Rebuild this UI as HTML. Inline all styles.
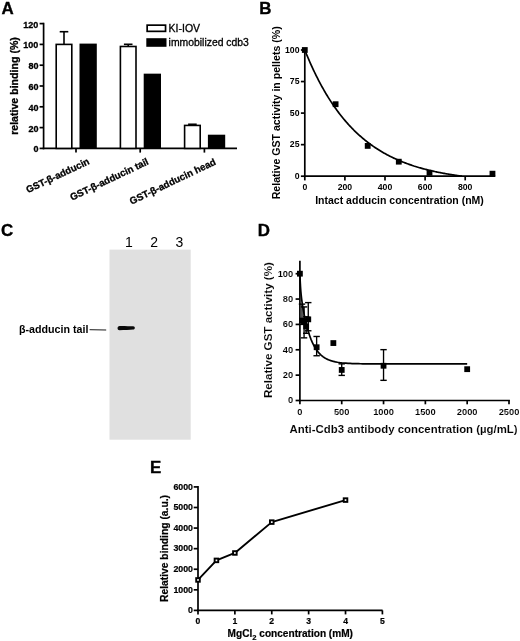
<!DOCTYPE html>
<html><head><meta charset="utf-8"><title>Figure</title>
<style>
html,body{margin:0;padding:0;background:#fff;}
body{width:520px;height:641px;overflow:hidden;}
svg{display:block;}
text{font-family:'Liberation Sans', Arial, sans-serif;fill:#000;}
line{stroke:#000;}
.pA text{stroke:#000;stroke-width:0.3px;}
.pE text{stroke:#000;stroke-width:0.2px;}
.lt text{stroke:#000;stroke-width:0.35px;}
.pD text{stroke:#fff;stroke-width:0.1px;}
</style></head><body>
<svg width="520" height="641" viewBox="0 0 520 641">
<rect x="0" y="0" width="520" height="641" fill="#fff"/>
<g class="lt">
<text id="LA" x="1.40" y="13.70" font-size="16.9" font-weight="bold" text-anchor="start">A</text>
<text id="LB" x="259.30" y="13.60" font-size="16.9" font-weight="bold" text-anchor="start">B</text>
<text id="LC" x="1.10" y="236.20" font-size="16.9" font-weight="bold" text-anchor="start">C</text>
<text id="LD" x="257.70" y="236.30" font-size="16.9" font-weight="bold" text-anchor="start">D</text>
<text id="LE" x="150.10" y="472.50" font-size="16.9" font-weight="bold" text-anchor="start">E</text>
</g>
<g class="pA">
<line x1="43.60" y1="22.75" x2="43.60" y2="149.25" stroke-width="1.7"/>
<line x1="42.75" y1="148.40" x2="237.00" y2="148.40" stroke-width="1.7"/>
<line x1="39.60" y1="148.40" x2="43.60" y2="148.40" stroke-width="1.7"/>
<text id="tA0" x="38.40" y="152.30" font-size="9.0" font-weight="bold" text-anchor="end">0</text>
<line x1="39.60" y1="127.60" x2="43.60" y2="127.60" stroke-width="1.7"/>
<text id="tA20" x="38.40" y="131.50" font-size="9.0" font-weight="bold" text-anchor="end">20</text>
<line x1="39.60" y1="106.80" x2="43.60" y2="106.80" stroke-width="1.7"/>
<text id="tA40" x="38.40" y="110.70" font-size="9.0" font-weight="bold" text-anchor="end">40</text>
<line x1="39.60" y1="86.00" x2="43.60" y2="86.00" stroke-width="1.7"/>
<text id="tA60" x="38.40" y="89.90" font-size="9.0" font-weight="bold" text-anchor="end">60</text>
<line x1="39.60" y1="65.20" x2="43.60" y2="65.20" stroke-width="1.7"/>
<text id="tA80" x="38.40" y="69.10" font-size="9.0" font-weight="bold" text-anchor="end">80</text>
<line x1="39.60" y1="44.40" x2="43.60" y2="44.40" stroke-width="1.7"/>
<text id="tA100" x="38.40" y="48.30" font-size="9.0" font-weight="bold" text-anchor="end">100</text>
<line x1="39.60" y1="23.60" x2="43.60" y2="23.60" stroke-width="1.7"/>
<text id="tA120" x="38.40" y="27.50" font-size="9.0" font-weight="bold" text-anchor="end">120</text>
<text id="yA" x="17.60" y="86.00" font-size="10.6" font-weight="bold" text-anchor="middle" transform="rotate(-90 17.60 86.00)">relative binding (%)</text>
<line x1="76.00" y1="148.40" x2="76.00" y2="152.60" stroke-width="1.7"/>
<line x1="140.20" y1="148.40" x2="140.20" y2="152.60" stroke-width="1.7"/>
<line x1="204.40" y1="148.40" x2="204.40" y2="152.60" stroke-width="1.7"/>
<line x1="64.00" y1="44.40" x2="64.00" y2="31.71" stroke-width="1.6"/>
<line x1="59.70" y1="31.71" x2="68.30" y2="31.71" stroke-width="1.6"/>
<rect x="56.20" y="44.40" width="15.60" height="104.00" fill="#fff" stroke="#000" stroke-width="1.6"/>
<rect x="79.50" y="43.60" width="17.30" height="104.80" fill="#000"/>
<line x1="128.20" y1="46.48" x2="128.20" y2="44.30" stroke-width="1.6"/>
<line x1="123.90" y1="44.30" x2="132.50" y2="44.30" stroke-width="1.6"/>
<rect x="120.40" y="46.48" width="15.60" height="101.92" fill="#fff" stroke="#000" stroke-width="1.6"/>
<rect x="143.70" y="73.66" width="17.30" height="74.74" fill="#000"/>
<line x1="192.40" y1="125.42" x2="192.40" y2="124.27" stroke-width="1.6"/>
<line x1="188.10" y1="124.27" x2="196.70" y2="124.27" stroke-width="1.6"/>
<rect x="184.60" y="125.42" width="15.60" height="22.98" fill="#fff" stroke="#000" stroke-width="1.6"/>
<rect x="207.90" y="134.70" width="17.30" height="13.70" fill="#000"/>
<rect x="147.15" y="25.15" width="18.40" height="6.20" fill="#fff" stroke="#000" stroke-width="1.7"/>
<rect x="146.30" y="38.20" width="20.20" height="8.60" fill="#000"/>
<text id="lg1" x="168.60" y="31.70" font-size="10.5" font-weight="normal" text-anchor="start">KI-IOV</text>
<text id="lg2" x="168.60" y="46.20" font-size="10.4" font-weight="normal" text-anchor="start">immobilized cdb3</text>
<text id="xl0" x="90.20" y="163.60" font-size="9.7" font-weight="bold" text-anchor="end" transform="rotate(-25.5 90.20 163.60)">GST-β-adducin</text>
<text id="xl1" x="149.30" y="163.90" font-size="9.7" font-weight="bold" text-anchor="end" transform="rotate(-25.5 149.30 163.90)">GST-β-adducin tail</text>
<text id="xl2" x="216.60" y="164.10" font-size="9.7" font-weight="bold" text-anchor="end" transform="rotate(-25.5 216.60 164.10)">GST-β-adducin head</text>
</g>
<g class="pB">
<line x1="304.80" y1="49.15" x2="304.80" y2="177.05" stroke-width="1.7"/>
<line x1="303.95" y1="176.20" x2="495.20" y2="176.20" stroke-width="1.7"/>
<line x1="300.90" y1="176.20" x2="304.80" y2="176.20" stroke-width="1.7"/>
<text id="tB0" x="299.50" y="179.00" font-size="8.7" font-weight="bold" text-anchor="end">0</text>
<line x1="300.90" y1="144.65" x2="304.80" y2="144.65" stroke-width="1.7"/>
<text id="tB25" x="299.50" y="147.45" font-size="8.7" font-weight="bold" text-anchor="end">25</text>
<line x1="300.90" y1="113.10" x2="304.80" y2="113.10" stroke-width="1.7"/>
<text id="tB50" x="299.50" y="115.90" font-size="8.7" font-weight="bold" text-anchor="end">50</text>
<line x1="300.90" y1="81.55" x2="304.80" y2="81.55" stroke-width="1.7"/>
<text id="tB75" x="299.50" y="84.35" font-size="8.7" font-weight="bold" text-anchor="end">75</text>
<line x1="300.90" y1="50.00" x2="304.80" y2="50.00" stroke-width="1.7"/>
<text id="tB100" x="299.50" y="52.80" font-size="8.7" font-weight="bold" text-anchor="end">100</text>
<line x1="304.80" y1="176.20" x2="304.80" y2="180.40" stroke-width="1.7"/>
<text id="uB0" x="304.80" y="189.50" font-size="8.7" font-weight="bold" text-anchor="middle">0</text>
<line x1="344.90" y1="176.20" x2="344.90" y2="180.40" stroke-width="1.7"/>
<text id="uB200" x="344.90" y="189.50" font-size="8.7" font-weight="bold" text-anchor="middle">200</text>
<line x1="385.00" y1="176.20" x2="385.00" y2="180.40" stroke-width="1.7"/>
<text id="uB400" x="385.00" y="189.50" font-size="8.7" font-weight="bold" text-anchor="middle">400</text>
<line x1="425.10" y1="176.20" x2="425.10" y2="180.40" stroke-width="1.7"/>
<text id="uB600" x="425.10" y="189.50" font-size="8.7" font-weight="bold" text-anchor="middle">600</text>
<line x1="465.20" y1="176.20" x2="465.20" y2="180.40" stroke-width="1.7"/>
<text id="uB800" x="465.20" y="189.50" font-size="8.7" font-weight="bold" text-anchor="middle">800</text>
<text id="yB" x="279.60" y="112.80" font-size="10.6" font-weight="bold" text-anchor="middle" transform="rotate(-90 279.60 112.80)">Relative GST activity in pellets (%)</text>
<text id="xB" x="399.50" y="204.10" font-size="10.5" font-weight="bold" text-anchor="middle">Intact adducin concentration (nM)</text>
<polyline fill="none" stroke="#000" stroke-width="1.7" stroke-linejoin="round" points="304.80,50.00 305.60,51.99 306.40,53.95 307.21,55.88 308.01,57.78 308.81,59.65 309.61,61.49 310.41,63.31 311.22,65.10 312.02,66.86 312.82,68.60 313.62,70.31 314.42,72.00 315.23,73.66 316.03,75.29 316.83,76.90 317.63,78.49 318.43,80.05 319.24,81.59 320.04,83.11 320.84,84.60 321.64,86.08 322.44,87.53 323.25,88.95 324.05,90.36 324.85,91.75 325.65,93.11 326.45,94.46 327.26,95.78 328.06,97.09 328.86,98.37 329.66,99.64 330.46,100.89 331.27,102.11 332.07,103.33 332.87,104.52 333.67,105.69 334.47,106.85 335.28,107.99 336.08,109.11 336.88,110.22 337.68,111.31 338.48,112.38 339.29,113.44 340.09,114.48 340.89,115.50 341.69,116.51 342.49,117.51 343.30,118.49 344.10,119.46 344.90,120.41 345.70,121.35 346.50,122.27 347.31,123.18 348.11,124.07 348.91,124.96 349.71,125.83 350.51,126.68 351.32,127.53 352.12,128.36 352.92,129.18 353.72,129.98 354.52,130.78 355.33,131.56 356.13,132.33 356.93,133.09 357.73,133.84 358.53,134.57 359.34,135.30 360.14,136.01 360.94,136.72 361.74,137.41 362.54,138.09 363.35,138.77 364.15,139.43 364.95,140.08 365.75,140.73 366.55,141.36 367.36,141.99 368.16,142.60 368.96,143.21 369.76,143.80 370.56,144.39 371.37,144.97 372.17,145.54 372.97,146.10 373.77,146.66 374.57,147.20 375.38,147.74 376.18,148.27 376.98,148.79 377.78,149.30 378.58,149.81 379.39,150.31 380.19,150.80 380.99,151.28 381.79,151.76 382.59,152.23 383.40,152.69 384.20,153.14 385.00,153.59 385.80,154.03 386.60,154.47 387.41,154.90 388.21,155.32 389.01,155.74 389.81,156.15 390.61,156.55 391.42,156.95 392.22,157.34 393.02,157.73 393.82,158.11 394.62,158.48 395.43,158.85 396.23,159.21 397.03,159.57 397.83,159.92 398.63,160.27 399.44,160.61 400.24,160.95 401.04,161.28 401.84,161.61 402.64,161.93 403.45,162.25 404.25,162.56 405.05,162.87 405.85,163.17 406.65,163.47 407.46,163.76 408.26,164.05 409.06,164.34 409.86,164.62 410.66,164.90 411.47,165.17 412.27,165.44 413.07,165.70 413.87,165.97 414.67,166.22 415.48,166.48 416.28,166.72 417.08,166.97 417.88,167.21 418.68,167.45 419.49,167.69 420.29,167.92 421.09,168.14 421.89,168.37 422.69,168.59 423.50,168.81 424.30,169.02 425.10,169.23 425.90,169.44 426.70,169.65 427.51,169.85 428.31,170.05 429.11,170.24 429.91,170.44 430.71,170.63 431.52,170.82 432.32,171.00 433.12,171.18 433.92,171.36 434.72,171.54 435.53,171.71 436.33,171.88 437.13,172.05 437.93,172.22 438.73,172.38 439.54,172.54 440.34,172.70 441.14,172.86 441.94,173.01 442.74,173.16 443.55,173.31 444.35,173.46 445.15,173.61 445.95,173.75 446.75,173.89 447.56,174.03 448.36,174.16 449.16,174.30 449.96,174.43 450.76,174.56 451.57,174.69 452.37,174.82 453.17,174.94 453.97,175.07 454.77,175.19 455.58,175.31 456.38,175.42 457.18,175.54 457.98,175.65 458.78,175.77 459.59,175.88 460.39,175.99 461.19,176.09 461.99,176.20"/>
<rect x="301.90" y="47.10" width="5.80" height="5.80" fill="#000"/>
<rect x="332.70" y="101.30" width="5.80" height="5.80" fill="#000"/>
<rect x="364.80" y="143.01" width="5.80" height="5.80" fill="#000"/>
<rect x="395.89" y="158.79" width="5.80" height="5.80" fill="#000"/>
<rect x="426.61" y="169.89" width="5.80" height="5.80" fill="#000"/>
<rect x="489.57" y="170.78" width="5.80" height="5.80" fill="#000"/>
</g>
<g class="pC">
<rect id="gel" x="109.50" y="249.60" width="81.20" height="190.10" fill="#e0e0e0"/>
<path d="M119.6,326.0 C124,325.9 130,326.2 133.2,326.3 C135.4,326.4 135.4,329.5 133.2,329.6 C130,329.8 124,330.2 119.6,330.3 C116.9,330.3 116.9,326.0 119.6,326.0 Z" fill="#0a0a0a"/>
<text id="lane1" x="128.80" y="247.20" font-size="14" font-weight="normal" text-anchor="middle">1</text>
<text id="lane2" x="154.10" y="247.20" font-size="14" font-weight="normal" text-anchor="middle">2</text>
<text id="lane3" x="179.40" y="247.20" font-size="14" font-weight="normal" text-anchor="middle">3</text>
<text id="cl" x="19.00" y="333.30" font-size="10.7" font-weight="bold" text-anchor="start">β-adducin tail</text>
<line x1="89.60" y1="329.70" x2="106.20" y2="330.00" stroke-width="0.9"/>
</g>
<g class="pD">
<line x1="299.90" y1="260.80" x2="299.90" y2="401.35" stroke-width="1.7"/>
<line x1="299.05" y1="400.50" x2="509.90" y2="400.50" stroke-width="1.7"/>
<line x1="295.60" y1="400.50" x2="299.90" y2="400.50" stroke-width="1.7"/>
<text id="tD0" x="293.20" y="403.40" font-size="9.3" font-weight="bold" text-anchor="end">0</text>
<line x1="295.60" y1="375.14" x2="299.90" y2="375.14" stroke-width="1.7"/>
<text id="tD20" x="293.20" y="378.04" font-size="9.3" font-weight="bold" text-anchor="end">20</text>
<line x1="295.60" y1="349.78" x2="299.90" y2="349.78" stroke-width="1.7"/>
<text id="tD40" x="293.20" y="352.68" font-size="9.3" font-weight="bold" text-anchor="end">40</text>
<line x1="295.60" y1="324.42" x2="299.90" y2="324.42" stroke-width="1.7"/>
<text id="tD60" x="293.20" y="327.32" font-size="9.3" font-weight="bold" text-anchor="end">60</text>
<line x1="295.60" y1="299.06" x2="299.90" y2="299.06" stroke-width="1.7"/>
<text id="tD80" x="293.20" y="301.96" font-size="9.3" font-weight="bold" text-anchor="end">80</text>
<line x1="295.60" y1="273.70" x2="299.90" y2="273.70" stroke-width="1.7"/>
<text id="tD100" x="293.20" y="276.60" font-size="9.3" font-weight="bold" text-anchor="end">100</text>
<line x1="299.90" y1="400.50" x2="299.90" y2="404.30" stroke-width="1.7"/>
<text id="uD0" x="299.90" y="415.00" font-size="9.3" font-weight="bold" text-anchor="middle">0</text>
<line x1="341.72" y1="400.50" x2="341.72" y2="404.30" stroke-width="1.7"/>
<text id="uD500" x="341.72" y="415.00" font-size="9.3" font-weight="bold" text-anchor="middle">500</text>
<line x1="383.54" y1="400.50" x2="383.54" y2="404.30" stroke-width="1.7"/>
<text id="uD1000" x="383.54" y="415.00" font-size="9.3" font-weight="bold" text-anchor="middle">1000</text>
<line x1="425.36" y1="400.50" x2="425.36" y2="404.30" stroke-width="1.7"/>
<text id="uD1500" x="425.36" y="415.00" font-size="9.3" font-weight="bold" text-anchor="middle">1500</text>
<line x1="467.18" y1="400.50" x2="467.18" y2="404.30" stroke-width="1.7"/>
<text id="uD2000" x="467.18" y="415.00" font-size="9.3" font-weight="bold" text-anchor="middle">2000</text>
<line x1="509.00" y1="400.50" x2="509.00" y2="404.30" stroke-width="1.7"/>
<text id="uD2500" x="509.00" y="415.00" font-size="9.3" font-weight="bold" text-anchor="middle">2500</text>
<text id="yD" x="272.40" y="330.10" font-size="11.6" font-weight="bold" text-anchor="middle" transform="rotate(-90 272.40 330.10)">Relative GST activity (%)</text>
<text id="xD" x="403.60" y="432.80" font-size="11.4" font-weight="bold" text-anchor="middle">Anti-Cdb3 antibody concentration (µg/mL)</text>
<polyline fill="none" stroke="#000" stroke-width="1.7" stroke-linejoin="round" points="299.90,273.70 299.98,276.09 300.07,278.25 300.15,280.21 300.23,282.00 300.32,283.64 300.40,285.15 300.49,286.54 300.57,287.83 300.65,289.02 300.74,290.14 300.82,291.19 300.90,292.17 300.99,293.10 301.07,293.98 301.15,294.82 301.24,295.63 301.32,296.39 301.41,297.13 301.49,297.84 301.57,298.53 301.66,299.19 301.74,299.84 301.82,300.46 301.91,301.08 301.99,301.67 302.07,302.26 302.16,302.83 302.24,303.39 302.33,303.94 302.41,304.49 302.49,305.02 302.58,305.55 302.66,306.06 302.74,306.57 302.83,307.08 302.91,307.58 302.99,308.07 303.08,308.55 303.16,309.03 303.25,309.51 303.50,310.90 303.75,312.26 304.00,313.57 304.25,314.85 304.50,316.10 304.75,317.31 305.00,318.49 305.25,319.64 305.50,320.76 305.75,321.85 306.01,322.91 306.26,323.95 306.51,324.96 306.76,325.95 307.01,326.91 307.26,327.84 307.51,328.76 307.76,329.64 308.01,330.51 308.26,331.36 308.51,332.18 308.77,332.98 309.02,333.76 309.27,334.53 309.52,335.27 309.77,335.99 310.02,336.70 310.27,337.39 310.52,338.06 310.77,338.71 311.02,339.35 311.28,339.97 311.53,340.58 311.78,341.17 312.03,341.74 312.28,342.30 312.53,342.85 312.78,343.38 313.03,343.90 313.28,344.41 313.53,344.90 313.78,345.38 314.04,345.85 314.29,346.31 314.54,346.75 314.79,347.18 315.04,347.61 315.29,348.02 315.54,348.42 315.79,348.81 316.04,349.20 316.29,349.57 316.54,349.93 316.80,350.28 317.05,350.63 317.30,350.96 317.55,351.29 317.80,351.61 318.05,351.92 318.30,352.22 318.55,352.52 318.80,352.81 319.05,353.09 319.30,353.36 319.56,353.63 319.81,353.89 320.06,354.14 320.31,354.39 320.56,354.63 320.81,354.86 321.06,355.09 321.31,355.32 321.56,355.53 321.81,355.75 322.06,355.95 322.32,356.15 322.57,356.35 322.82,356.54 323.07,356.73 323.32,356.91 323.57,357.08 323.82,357.26 324.07,357.43 324.32,357.59 324.57,357.75 324.82,357.90 325.08,358.06 325.33,358.20 325.58,358.35 325.83,358.49 326.08,358.63 326.33,358.76 326.58,358.89 326.83,359.02 327.08,359.14 327.33,359.26 327.58,359.38 327.84,359.49 328.09,359.60 328.34,359.71 328.59,359.82 328.84,359.92 329.09,360.02 329.34,360.12 329.59,360.22 329.84,360.31 330.09,360.40 330.34,360.49 330.60,360.58 330.85,360.66 331.10,360.74 331.35,360.82 331.60,360.90 331.85,360.98 332.10,361.05 332.35,361.12 332.60,361.19 332.85,361.26 333.11,361.33 333.36,361.39 335.45,361.88 337.54,362.27 339.63,362.58 341.72,362.84 343.81,363.04 345.90,363.21 347.99,363.34 350.08,363.45 352.17,363.54 354.27,363.61 356.36,363.67 358.45,363.71 360.54,363.75 362.63,363.78 364.72,363.80 366.81,363.82 368.90,363.84 370.99,363.85 373.08,363.86 375.18,363.87 377.27,363.88 379.36,363.88 381.45,363.89 383.54,363.89 385.63,363.89 387.72,363.90 389.81,363.90 391.90,363.90 394.00,363.90 396.09,363.90 398.18,363.90 400.27,363.90 402.36,363.90 404.45,363.90 406.54,363.90 408.63,363.90 410.72,363.90 412.81,363.90 414.90,363.90 417.00,363.91 419.09,363.91 421.18,363.91 423.27,363.91 425.36,363.91 427.45,363.91 429.54,363.91 431.63,363.91 433.72,363.91 435.81,363.91 437.91,363.91 440.00,363.91 442.09,363.91 444.18,363.91 446.27,363.91 448.36,363.91 450.45,363.91 452.54,363.91 454.63,363.91 456.73,363.91 458.82,363.91 460.91,363.91 463.00,363.91 465.09,363.91 467.18,363.91"/>
<line x1="301.99" y1="324.42" x2="301.99" y2="304.13" stroke-width="1.35"/>
<line x1="298.79" y1="324.42" x2="305.19" y2="324.42" stroke-width="1.4"/>
<line x1="298.79" y1="304.13" x2="305.19" y2="304.13" stroke-width="1.4"/>
<line x1="304.08" y1="337.86" x2="304.08" y2="306.92" stroke-width="1.35"/>
<line x1="300.88" y1="337.86" x2="307.28" y2="337.86" stroke-width="1.4"/>
<line x1="300.88" y1="306.92" x2="307.28" y2="306.92" stroke-width="1.4"/>
<line x1="306.17" y1="333.30" x2="306.17" y2="316.81" stroke-width="1.35"/>
<line x1="302.97" y1="333.30" x2="309.37" y2="333.30" stroke-width="1.4"/>
<line x1="302.97" y1="316.81" x2="309.37" y2="316.81" stroke-width="1.4"/>
<line x1="308.26" y1="330.76" x2="308.26" y2="302.61" stroke-width="1.35"/>
<line x1="305.06" y1="330.76" x2="311.46" y2="330.76" stroke-width="1.4"/>
<line x1="305.06" y1="302.61" x2="311.46" y2="302.61" stroke-width="1.4"/>
<line x1="316.63" y1="355.74" x2="316.63" y2="336.47" stroke-width="1.35"/>
<line x1="313.43" y1="355.74" x2="319.83" y2="355.74" stroke-width="1.4"/>
<line x1="313.43" y1="336.47" x2="319.83" y2="336.47" stroke-width="1.4"/>
<line x1="341.72" y1="375.39" x2="341.72" y2="363.85" stroke-width="1.35"/>
<line x1="338.52" y1="375.39" x2="344.92" y2="375.39" stroke-width="1.4"/>
<line x1="338.52" y1="363.85" x2="344.92" y2="363.85" stroke-width="1.4"/>
<line x1="383.54" y1="380.34" x2="383.54" y2="349.65" stroke-width="1.35"/>
<line x1="380.34" y1="380.34" x2="386.74" y2="380.34" stroke-width="1.4"/>
<line x1="380.34" y1="349.65" x2="386.74" y2="349.65" stroke-width="1.4"/>
<rect x="297.00" y="270.80" width="5.80" height="5.80" fill="#000"/>
<rect x="299.09" y="317.72" width="5.80" height="5.80" fill="#000"/>
<rect x="301.18" y="318.98" width="5.80" height="5.80" fill="#000"/>
<rect x="303.27" y="323.42" width="5.80" height="5.80" fill="#000"/>
<rect x="305.36" y="316.45" width="5.80" height="5.80" fill="#000"/>
<rect x="313.73" y="344.34" width="5.80" height="5.80" fill="#000"/>
<rect x="330.46" y="340.16" width="5.80" height="5.80" fill="#000"/>
<rect x="338.82" y="367.04" width="5.80" height="5.80" fill="#000"/>
<rect x="380.64" y="362.86" width="5.80" height="5.80" fill="#000"/>
<rect x="464.28" y="366.28" width="5.80" height="5.80" fill="#000"/>
</g>
<g class="pE">
<line x1="198.00" y1="486.07" x2="198.00" y2="611.25" stroke-width="1.7"/>
<line x1="197.15" y1="610.40" x2="382.60" y2="610.40" stroke-width="1.7"/>
<line x1="193.70" y1="610.40" x2="198.00" y2="610.40" stroke-width="1.7"/>
<text id="tE0" x="193.00" y="613.20" font-size="8.8" font-weight="bold" text-anchor="end">0</text>
<line x1="193.70" y1="589.82" x2="198.00" y2="589.82" stroke-width="1.7"/>
<text id="tE1000" x="193.00" y="592.62" font-size="8.8" font-weight="bold" text-anchor="end">1000</text>
<line x1="193.70" y1="569.24" x2="198.00" y2="569.24" stroke-width="1.7"/>
<text id="tE2000" x="193.00" y="572.04" font-size="8.8" font-weight="bold" text-anchor="end">2000</text>
<line x1="193.70" y1="548.66" x2="198.00" y2="548.66" stroke-width="1.7"/>
<text id="tE3000" x="193.00" y="551.46" font-size="8.8" font-weight="bold" text-anchor="end">3000</text>
<line x1="193.70" y1="528.08" x2="198.00" y2="528.08" stroke-width="1.7"/>
<text id="tE4000" x="193.00" y="530.88" font-size="8.8" font-weight="bold" text-anchor="end">4000</text>
<line x1="193.70" y1="507.50" x2="198.00" y2="507.50" stroke-width="1.7"/>
<text id="tE5000" x="193.00" y="510.30" font-size="8.8" font-weight="bold" text-anchor="end">5000</text>
<line x1="193.70" y1="486.92" x2="198.00" y2="486.92" stroke-width="1.7"/>
<text id="tE6000" x="193.00" y="489.72" font-size="8.8" font-weight="bold" text-anchor="end">6000</text>
<line x1="198.00" y1="610.40" x2="198.00" y2="614.40" stroke-width="1.7"/>
<text id="uE0" x="198.00" y="624.20" font-size="8.6" font-weight="bold" text-anchor="middle">0</text>
<line x1="234.88" y1="610.40" x2="234.88" y2="614.40" stroke-width="1.7"/>
<text id="uE1" x="234.88" y="624.20" font-size="8.6" font-weight="bold" text-anchor="middle">1</text>
<line x1="271.76" y1="610.40" x2="271.76" y2="614.40" stroke-width="1.7"/>
<text id="uE2" x="271.76" y="624.20" font-size="8.6" font-weight="bold" text-anchor="middle">2</text>
<line x1="308.64" y1="610.40" x2="308.64" y2="614.40" stroke-width="1.7"/>
<text id="uE3" x="308.64" y="624.20" font-size="8.6" font-weight="bold" text-anchor="middle">3</text>
<line x1="345.52" y1="610.40" x2="345.52" y2="614.40" stroke-width="1.7"/>
<text id="uE4" x="345.52" y="624.20" font-size="8.6" font-weight="bold" text-anchor="middle">4</text>
<line x1="382.40" y1="610.40" x2="382.40" y2="614.40" stroke-width="1.7"/>
<text id="uE5" x="382.40" y="624.20" font-size="8.6" font-weight="bold" text-anchor="middle">5</text>
<text id="yE" x="168.40" y="548.50" font-size="10.3" font-weight="bold" text-anchor="middle" transform="rotate(-90 168.40 548.50)">Relative binding (a.u.)</text>
<text id="xE" x="227.60" y="637.20" font-size="10.1" font-weight="bold" text-anchor="start">MgCl<tspan font-size="7.6" dy="2.6">2</tspan><tspan dy="-2.6"> concentration (mM)</tspan></text>
<polyline fill="none" stroke="#000" stroke-width="1.9" stroke-linejoin="round" points="198.00,579.94 216.44,560.39 234.88,552.98 271.76,522.11 345.52,500.09"/>
<rect x="196.20" y="578.14" width="3.60" height="3.60" fill="#fff" stroke="#000" stroke-width="1.9"/>
<rect x="214.64" y="558.59" width="3.60" height="3.60" fill="#fff" stroke="#000" stroke-width="1.9"/>
<rect x="233.08" y="551.18" width="3.60" height="3.60" fill="#fff" stroke="#000" stroke-width="1.9"/>
<rect x="269.96" y="520.31" width="3.60" height="3.60" fill="#fff" stroke="#000" stroke-width="1.9"/>
<rect x="343.72" y="498.29" width="3.60" height="3.60" fill="#fff" stroke="#000" stroke-width="1.9"/>
</g>
</svg>
</body></html>
